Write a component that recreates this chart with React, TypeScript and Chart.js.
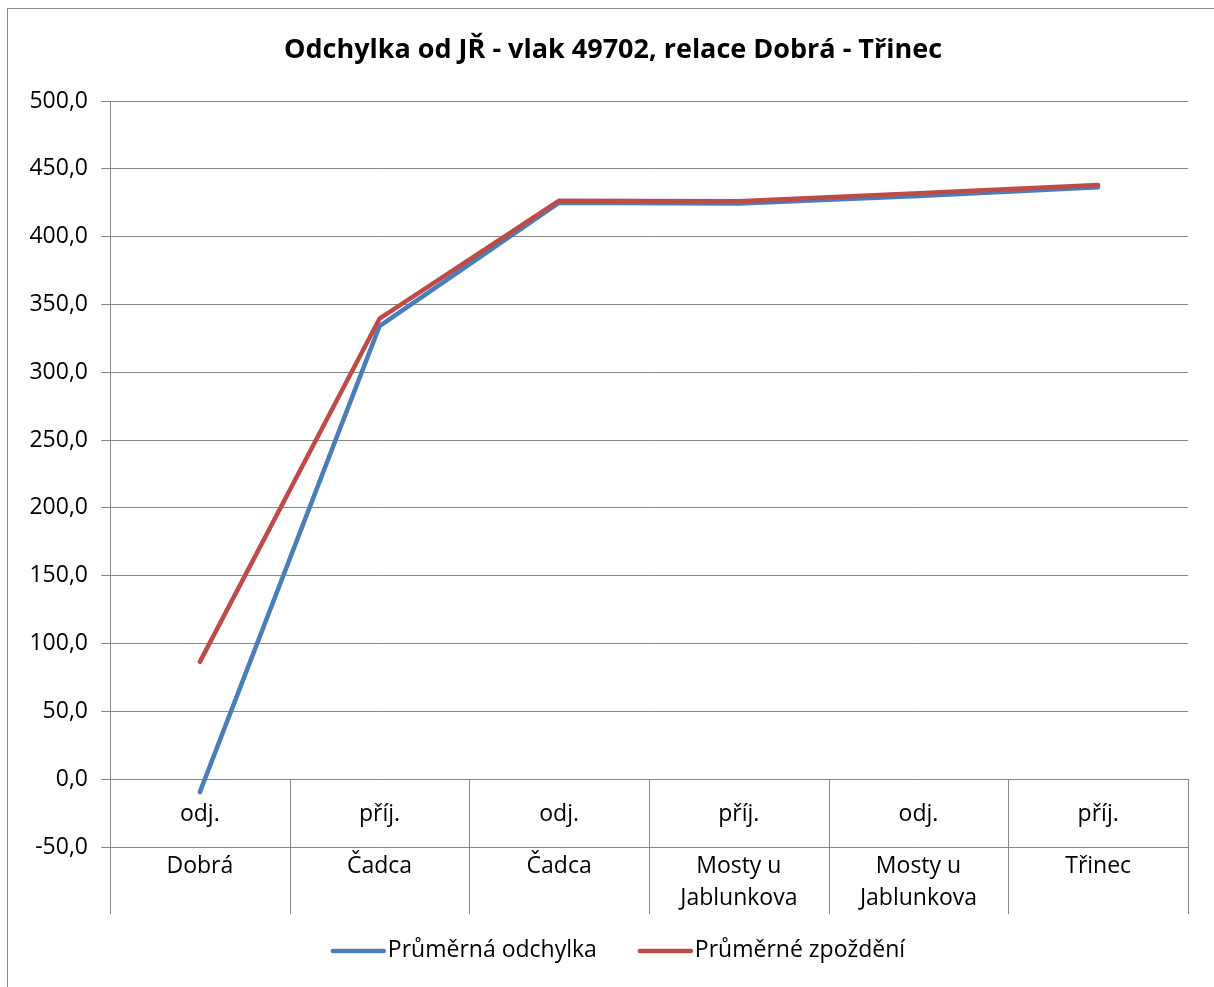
import React, { useEffect, useRef } from "react";
import { Chart, registerables } from "chart.js";

Chart.register(...registerables);

const chartTitle = "Odchylka od JŘ - vlak 49702, relace Dobrá - Třinec";
const eventLabels = ["odj.", "příj.", "odj.", "příj.", "odj.", "příj."];
const stationLabels = [["Dobrá"], ["Čadca"], ["Čadca"], ["Mosty u", "Jablunkova"], ["Mosty u", "Jablunkova"], ["Třinec"]];
const seriesNames = ["Průměrná odchylka", "Průměrné zpoždění"];
const avgDeviation = [-9.5, 334.0, 425.0, 424.5, 430.0, 436.5];
const avgDelay = [86.5, 339.5, 426.5, 426.0, 432.0, 438.0];
const yMin = -50;
const yMax = 500;
const yStep = 50;

const FONT = "'Open Sans', 'Noto Sans', sans-serif";
const GRID = "#868686";
const BLUE = "#4A7EBB";
const RED = "#BE4B48";
const W = 1214;
const H = 987;
const LABEL_SIZE = 23;

const decorPlugin = {
  id: "excelDecor",
  beforeDraw(chart: any) {
    const ctx = chart.ctx;
    ctx.save();
    ctx.fillStyle = "#ffffff";
    ctx.fillRect(0, 0, chart.width, chart.height);
    ctx.strokeStyle = "#8a8a8a";
    ctx.lineWidth = 1;
    ctx.strokeRect(7.5, 8.5, chart.width + 20, chart.height + 20);
    ctx.fillStyle = "#000";
    ctx.font = `bold 27px ${FONT}`;
    ctx.textAlign = "center";
    ctx.textBaseline = "middle";
    ctx.fillText(chartTitle, 613, 50);
    ctx.restore();
  },
  beforeDatasetsDraw(chart: any) {
    const ctx = chart.ctx;
    const x = chart.scales.x;
    const y = chart.scales.y;
    const y0 = y.getPixelForValue(0);
    ctx.save();
    ctx.strokeStyle = GRID;
    ctx.lineWidth = 1;
    ctx.beginPath();
    for (let i = 0; i <= eventLabels.length; i++) {
      const px = Math.round(x.getPixelForValue(i - 0.5)) + 0.5;
      ctx.moveTo(px, Math.round(y0));
      ctx.lineTo(px, y0 + 135);
    }
    ctx.stroke();
    ctx.fillStyle = "#000";
    ctx.font = `${LABEL_SIZE}px ${FONT}`;
    ctx.textAlign = "center";
    ctx.textBaseline = "middle";
    eventLabels.forEach((lab, i) => ctx.fillText(lab, x.getPixelForValue(i), y0 + 35));
    stationLabels.forEach((lines, i) =>
      lines.forEach((ln, j) => ctx.fillText(ln, x.getPixelForValue(i), y0 + 87 + j * 32))
    );
    ctx.restore();
  },
  afterDraw(chart: any) {
    const ctx = chart.ctx;
    ctx.save();
    ctx.font = `${LABEL_SIZE}px ${FONT}`;
    ctx.textBaseline = "middle";
    ctx.textAlign = "left";
    const colors = [BLUE, RED];
    const lineLen = 55;
    const gap = 2;
    const itemGap = 41;
    const widths = seriesNames.map((n) => lineLen + gap + ctx.measureText(n).width);
    const total = widths.reduce((a, b) => a + b, 0) + itemGap * (seriesNames.length - 1);
    let cx = 618 - total / 2;
    const cy = 950;
    seriesNames.forEach((n, i) => {
      ctx.strokeStyle = colors[i];
      ctx.lineWidth = 4.5;
      ctx.lineCap = "round";
      ctx.beginPath();
      ctx.moveTo(cx + 2, cy + 1);
      ctx.lineTo(cx + lineLen - 2, cy + 1);
      ctx.stroke();
      ctx.fillStyle = "#000";
      ctx.fillText(n, cx + lineLen + gap, cy);
      cx += widths[i] + itemGap;
    });
    ctx.restore();
  },
};

export default function App() {
  const canvasRef = useRef<HTMLCanvasElement | null>(null);

  useEffect(() => {
    if (!canvasRef.current) return;
    const labels = eventLabels.map((e, i) => `${e} ${stationLabels[i].join(" ")}`);
    const chart = new Chart(canvasRef.current, {
      type: "line",
      data: {
        labels,
        datasets: [
          {
            label: seriesNames[0],
            data: avgDeviation,
            borderColor: BLUE,
            backgroundColor: BLUE,
            borderWidth: 4.5,
            pointRadius: 0,
            pointHoverRadius: 0,
            tension: 0,
            borderCapStyle: "round",
            borderJoinStyle: "round",
            order: 1,
          },
          {
            label: seriesNames[1],
            data: avgDelay,
            borderColor: RED,
            backgroundColor: RED,
            borderWidth: 4.5,
            pointRadius: 0,
            pointHoverRadius: 0,
            tension: 0,
            borderCapStyle: "round",
            borderJoinStyle: "round",
            order: 0,
          },
        ],
      },
      options: {
        animation: false,
        responsive: false,
        maintainAspectRatio: false,
        devicePixelRatio: 1,
        layout: { padding: { top: 101, right: 26, bottom: 0, left: 0 } },
        plugins: {
          legend: { display: false },
          title: { display: false },
          tooltip: { enabled: false },
        },
        scales: {
          x: {
            type: "category",
            offset: true,
            grid: { display: false },
            border: { display: false },
            ticks: { display: false },
            afterFit: (axis: any) => {
              axis.height = 140;
            },
          },
          y: {
            type: "linear",
            min: yMin,
            max: yMax,
            ticks: {
              stepSize: yStep,
              color: "#000",
              padding: 13,
              font: { family: FONT, size: LABEL_SIZE },
              callback: (v: any) => Number(v).toFixed(1).replace(".", ","),
            },
            grid: { color: GRID, tickColor: GRID, tickLength: 9, lineWidth: 1 },
            border: { display: true, color: GRID, width: 1 },
            afterFit: (axis: any) => {
              axis.width = 110;
            },
          },
        },
      },
      plugins: [decorPlugin],
    });
    return () => chart.destroy();
  }, []);

  return (
    <div style={{ position: "fixed", left: 0, top: 0, width: W, height: H, background: "#fff" }}>
      <canvas ref={canvasRef} width={W} height={H} style={{ display: "block", width: W, height: H }} />
    </div>
  );
}
